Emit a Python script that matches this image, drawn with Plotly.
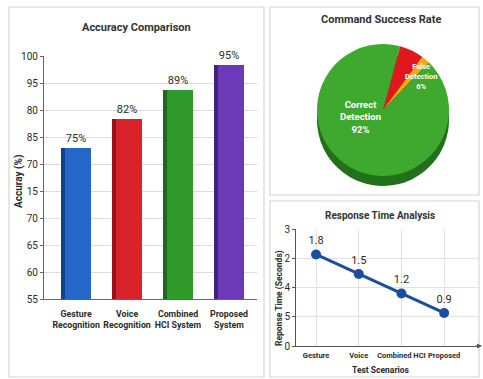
import plotly.graph_objects as go

# ---- data -------------------------------------------------------------
systems = ["Gesture<br>Recognition", "Voice<br>Recognition",
           "Combined<br>HCI System", "Proposed<br>System"]
accuracy = [75, 82, 89, 95]
bar_colors = ["#2566c8", "#d8232b", "#2f9a2a", "#6c3ab8"]
bar_side_colors = ["#123f8f", "#9a1016", "#1c6a18", "#46207f"]
acc_tick_labels = ["55", "60", "65", "70", "15", "70", "85", "80", "95", "100"]

outcome_labels = ["False Detection", "Other", "Correct Detection"]
outcome_share = [6, 2, 92]
outcome_colors = ["#e0181d", "#f4a90c", "#3ea92e"]
outcome_rim_colors = ["#8e0f12", "#a87400", "#22701a"]

scenarios = ["Gesture", "Voice", "Combined HCI", "Proposed"]
response_time = [1.8, 1.5, 1.2, 0.9]
rt_tick_labels = ["0", "5", "4", "2", "3"]

W, H = 483, 379
FONT = "Roboto, sans-serif"
DARK = "#2b2b2b"


def px(x):
    return x / W


def py(y):
    return (H - y) / H


def label(text, x, y, size, color=DARK, angle=0):
    return dict(text=text, x=px(x), y=py(y), xref="paper", yref="paper",
                xanchor="center", yanchor="middle", showarrow=False,
                textangle=angle, font=dict(family=FONT, size=size, color=color))


fig = go.Figure()

# ---- accuracy bars ----------------------------------------------------
acc_lo, acc_hi = 38.36, 97.24
acc_step = (acc_hi - acc_lo) / 9
acc_tickvals = [acc_lo + i * acc_step for i in range(10)]

fig.add_trace(go.Bar(
    x=systems, y=accuracy, base=0, width=0.59, offset=-0.295,
    marker=dict(color=bar_colors, line=dict(width=0)),
    text=[f"{v}%" for v in accuracy], textposition="outside",
    textfont=dict(family=FONT, size=11, color=DARK),
    cliponaxis=False, xaxis="x", yaxis="y", showlegend=False,
))
# darker left face of each bar
fig.add_trace(go.Bar(
    x=systems, y=accuracy, base=0, width=0.075, offset=-0.295,
    marker=dict(color=bar_side_colors, line=dict(width=0)),
    xaxis="x", yaxis="y", showlegend=False, hoverinfo="skip",
))

# ---- command success pie ---------------------------------------------
pie_x = [px(317), px(449)]
fig.add_trace(go.Pie(
    labels=outcome_labels, values=outcome_share, sort=False,
    direction="clockwise", rotation=15,
    marker=dict(colors=outcome_rim_colors, line=dict(width=0)),
    textinfo="none", hoverinfo="skip", showlegend=False,
    domain=dict(x=pie_x, y=[py(186), py(54)]),
))
fig.add_trace(go.Pie(
    labels=outcome_labels, values=outcome_share, sort=False,
    direction="clockwise", rotation=15,
    marker=dict(colors=outcome_colors, line=dict(width=0)),
    textinfo="none", showlegend=False,
    domain=dict(x=pie_x, y=[py(176), py(44)]),
))

# ---- response time line ----------------------------------------------
rt_lo, rt_hi = 0.392, 2.192
rt_step = (rt_hi - rt_lo) / 4
rt_tickvals = [rt_lo + i * rt_step for i in range(5)]

fig.add_trace(go.Scatter(
    x=scenarios, y=response_time, mode="lines+markers+text",
    line=dict(color="#1b4f9e", width=3),
    marker=dict(color="#1b4f9e", size=10),
    text=[f"{v}" for v in response_time], textposition="top center",
    textfont=dict(family=FONT, size=11, color=DARK),
    cliponaxis=False, xaxis="x2", yaxis="y2", showlegend=False,
))

# ---- panel frames -----------------------------------------------------
shapes = []
for x0, y0, x1, y1 in [(9, 7, 264, 377), (270, 7, 479, 195), (270, 201, 479, 377)]:
    shapes.append(dict(type="rect", xref="paper", yref="paper",
                       x0=px(x0), x1=px(x1), y0=py(y1), y1=py(y0),
                       line=dict(color="#d6d6d6", width=1.2),
                       fillcolor="white", layer="below"))

annotations = [
    label("<b>Accuracy Comparison</b>", 136, 27, 11, "#333333"),
    label("<b>Command Success Rate</b>", 381, 20, 11, "#333333"),
    label("<b>Response Time Analysis</b>", 380, 215, 10, "#333333"),
    # slice labels on the pie
    label(f"<b>Correct<br>Detection<br>{outcome_share[2]}%</b>", 360, 117, 9.5, "white"),
    label(f"<b>False<br>Detection<br>{outcome_share[0]}%</b>", 421, 76, 7.5, "white"),
    # axis titles
    label("<b>Accuray (%)</b>", 19, 182, 10, angle=-90),
    label("<b>Reponse Time (Seconds)</b>", 279, 298, 8.5, angle=-90),
    label("<b>Test Scenarios</b>", 381, 370, 8.5),
]
# arrow head on the response-time x axis
annotations.append(dict(
    x=px(482), y=py(346), ax=-8, ay=0, xref="paper", yref="paper",
    showarrow=True, arrowhead=2, arrowsize=1,
    arrowwidth=1, arrowcolor="#555555", text=""))

fig.update_layout(
    width=W, height=H, margin=dict(l=0, r=0, t=0, b=0, autoexpand=False),
    paper_bgcolor="white", plot_bgcolor="rgba(0,0,0,0)",
    barmode="overlay", bargap=0,
    font=dict(family=FONT, color=DARK),
    shapes=shapes, annotations=annotations,
    xaxis=dict(domain=[px(44), px(257)], range=[-0.63, 3.55], automargin=False,
               showline=True, linecolor="#666666", linewidth=1.2, tickangle=0,
               ticks="outside", ticklen=6, tickcolor="rgba(0,0,0,0)",
               showgrid=False, zeroline=False,
               tickfont=dict(family=FONT, size=8.8, color=DARK, weight="bold")),
    yaxis=dict(domain=[py(299), py(56)], range=[acc_lo, acc_hi], automargin=False,
               tickvals=acc_tickvals, ticktext=acc_tick_labels,
               showline=True, linecolor="#666666", linewidth=1.2,
               ticks="outside", ticklen=3, tickcolor="#666666",
               showgrid=True, gridcolor="#dcdcdc", gridwidth=1,
               zeroline=False, tickfont=dict(family=FONT, size=10, color=DARK)),
    xaxis2=dict(domain=[px(296), px(480)], range=[-0.47, 3.84], anchor="y2",
                automargin=False, tickangle=0,
                showline=True, linecolor="#555555", linewidth=1,
                ticks="outside", ticklen=2, tickcolor="rgba(0,0,0,0)",
                showgrid=True, gridcolor="#e2e2e2", zeroline=False,
                tickfont=dict(family=FONT, size=7.5, color=DARK, weight="bold")),
    yaxis2=dict(domain=[py(346), py(229)], range=[rt_lo, rt_hi], anchor="x2",
                automargin=False,
                tickvals=rt_tickvals, ticktext=rt_tick_labels,
                showline=True, linecolor="#555555", linewidth=1,
                ticks="outside", ticklen=3, tickcolor="#555555",
                showgrid=True, gridcolor="#e2e2e2", zeroline=False,
                tickfont=dict(family=FONT, size=10, color=DARK)),
)

fig.write_html("out.html")
